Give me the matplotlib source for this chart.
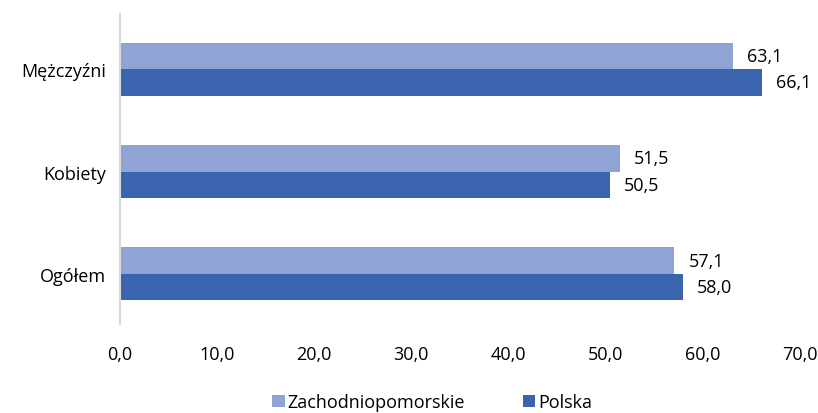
import matplotlib.pyplot as plt
import numpy as np

plt.rcParams['font.family'] = ['Open Sans', 'DejaVu Sans']

categories = ['Ogółem', 'Kobiety', 'Mężczyźni']
zachodniopomorskie = [57.1, 51.5, 63.1]
polska = [58.0, 50.5, 66.1]
xticks = [0, 10, 20, 30, 40, 50, 60, 70]

light = '#8FA3D4'
dark = '#3A64AD'
fs = 13

fig = plt.figure(figsize=(8.18, 4.14), dpi=100)
ax = fig.add_axes([0.1467, 0.215, 0.831, 0.749])

y = np.arange(len(categories))
h = 0.26
b1 = ax.barh(y + h / 2, zachodniopomorskie, height=h, color=light, label='Zachodniopomorskie')
b2 = ax.barh(y - h / 2, polska, height=h, color=dark, label='Polska')

for bars, vals in ((b1, zachodniopomorskie), (b2, polska)):
    for bar, v in zip(bars, vals):
        ax.annotate(f'{v:.1f}'.replace('.', ','),
                    (bar.get_width(), bar.get_y() + bar.get_height() / 2),
                    xytext=(10, 0), textcoords='offset points',
                    va='center', ha='left', fontsize=fs, color='#000000')

ax.set_xlim(0, 70)
ax.set_ylim(-0.49, 2.54)
ax.set_xticks(xticks)
ax.set_xticklabels([f'{t:.1f}'.replace('.', ',') for t in xticks], fontsize=fs)
ax.set_yticks(y)
ax.set_yticklabels(categories, fontsize=fs)
ax.tick_params(length=0)
ax.tick_params(axis='x', pad=15)
ax.tick_params(axis='y', pad=10)

for s in ['top', 'right', 'bottom']:
    ax.spines[s].set_visible(False)
ax.spines['left'].set_color('#d9d9d9')
ax.spines['left'].set_linewidth(1.5)

fig.legend(handles=[b1, b2], loc='lower center', bbox_to_anchor=(0.528, -0.035),
           ncol=2, frameon=False, fontsize=fs, handlelength=0.7, handleheight=0.7,
           handletextpad=0.15, columnspacing=3.2)

fig.savefig('out.png', dpi=100)
